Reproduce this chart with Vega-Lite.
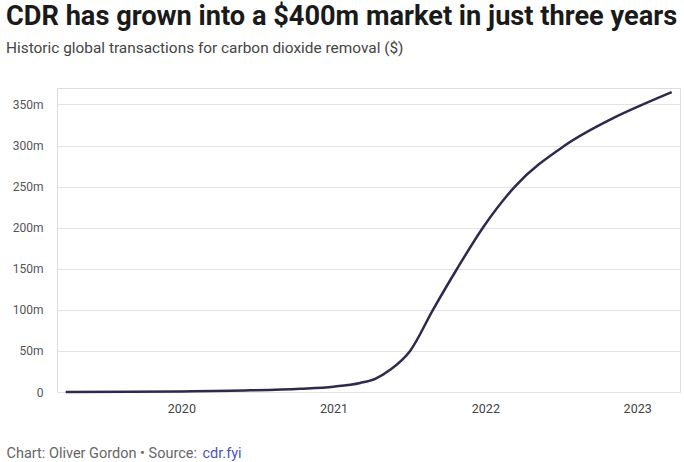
{
  "$schema": "https://vega.github.io/schema/vega-lite/v6.json",
  "width": 623,
  "height": 304,
  "autosize": {"type": "none"},
  "padding": {"left": 57, "top": 88, "right": 4, "bottom": 70},
  "background": "#ffffff",
  "title": {
    "text": "CDR has grown into a $400m market in just three years",
    "subtitle": "Historic global transactions for carbon dioxide removal ($)",
    "anchor": "start",
    "frame": "group",
    "dx": -51,
    "offset": 30,
    "font": "Roboto",
    "fontSize": 27.2,
    "fontWeight": "bold",
    "color": "#1a1a1a",
    "subtitleFont": "Roboto",
    "subtitleFontSize": 15.4,
    "subtitleColor": "#444444",
    "subtitlePadding": 10
  },
  "data": {
    "values": [
      {"date": "2019-03-29", "value": 0},
      {"date": "2019-09-01", "value": 0.3},
      {"date": "2020-01-01", "value": 0.7},
      {"date": "2020-06-16", "value": 2},
      {"date": "2020-10-13", "value": 4},
      {"date": "2021-01-01", "value": 6.5},
      {"date": "2021-03-06", "value": 11},
      {"date": "2021-04-11", "value": 16},
      {"date": "2021-05-17", "value": 27},
      {"date": "2021-07-04", "value": 50},
      {"date": "2021-08-28", "value": 100},
      {"date": "2021-10-25", "value": 150},
      {"date": "2021-12-26", "value": 200},
      {"date": "2022-03-13", "value": 250},
      {"date": "2022-07-11", "value": 300},
      {"date": "2022-11-03", "value": 333},
      {"date": "2023-01-15", "value": 350},
      {"date": "2023-03-25", "value": 365}
    ]
  },
  "layer": [
    {
      "mark": {"type": "line", "interpolate": "monotone", "color": "#2d2a4e", "strokeWidth": 2.5},
      "encoding": {
        "x": {
          "field": "date",
          "type": "temporal",
          "scale": {"domain": ["2019-03-08", "2023-04-14"]},
          "axis": {
            "orient": "bottom",
            "values": [{"year": 2020}, {"year": 2021}, {"year": 2022}, {"year": 2023}],
            "format": "%Y",
            "grid": false,
            "ticks": false,
            "domain": false,
            "labelFont": "Roboto",
            "labelFontSize": 12.5,
            "labelColor": "#444444",
            "labelPadding": 10,
            "title": "Chart: Oliver Gordon • Source: ",
            "titleFont": "Roboto",
            "titleFontSize": 14.5,
            "titleFontWeight": "normal",
            "titleColor": "#666666",
            "titleAnchor": "start",
            "titleAlign": "left",
            "titleBaseline": "alphabetic",
            "titleX": -51,
            "titleY": 65
          }
        },
        "y": {
          "field": "value",
          "type": "quantitative",
          "scale": {"domain": [0, 370], "nice": false},
          "axis": {
            "values": [0, 50, 100, 150, 200, 250, 300, 350],
            "labelExpr": "datum.value == 0 ? '0' : datum.value + 'm'",
            "title": null,
            "domain": false,
            "ticks": false,
            "gridColor": "#e3e3e3",
            "gridWidth": 1,
            "labelFont": "Roboto",
            "labelFontSize": 12,
            "labelColor": "#555555",
            "labelPadding": 14
          }
        }
      }
    },
    {
      "mark": {"type": "line", "opacity": 0},
      "encoding": {
        "x": {
          "field": "date",
          "type": "temporal",
          "axis": {
            "orient": "bottom",
            "offset": 0,
            "labels": false,
            "ticks": false,
            "domain": false,
            "grid": false,
            "title": "cdr.fyi",
            "titleFont": "Roboto",
            "titleFontSize": 14.5,
            "titleFontWeight": "normal",
            "titleColor": "#4a56b8",
            "titleAlign": "left",
            "titleBaseline": "alphabetic",
            "titleX": 145,
            "titleY": 65
          }
        },
        "y": {"field": "value", "type": "quantitative"}
      }
    }
  ],
  "resolve": {"axis": {"x": "independent"}}
}
